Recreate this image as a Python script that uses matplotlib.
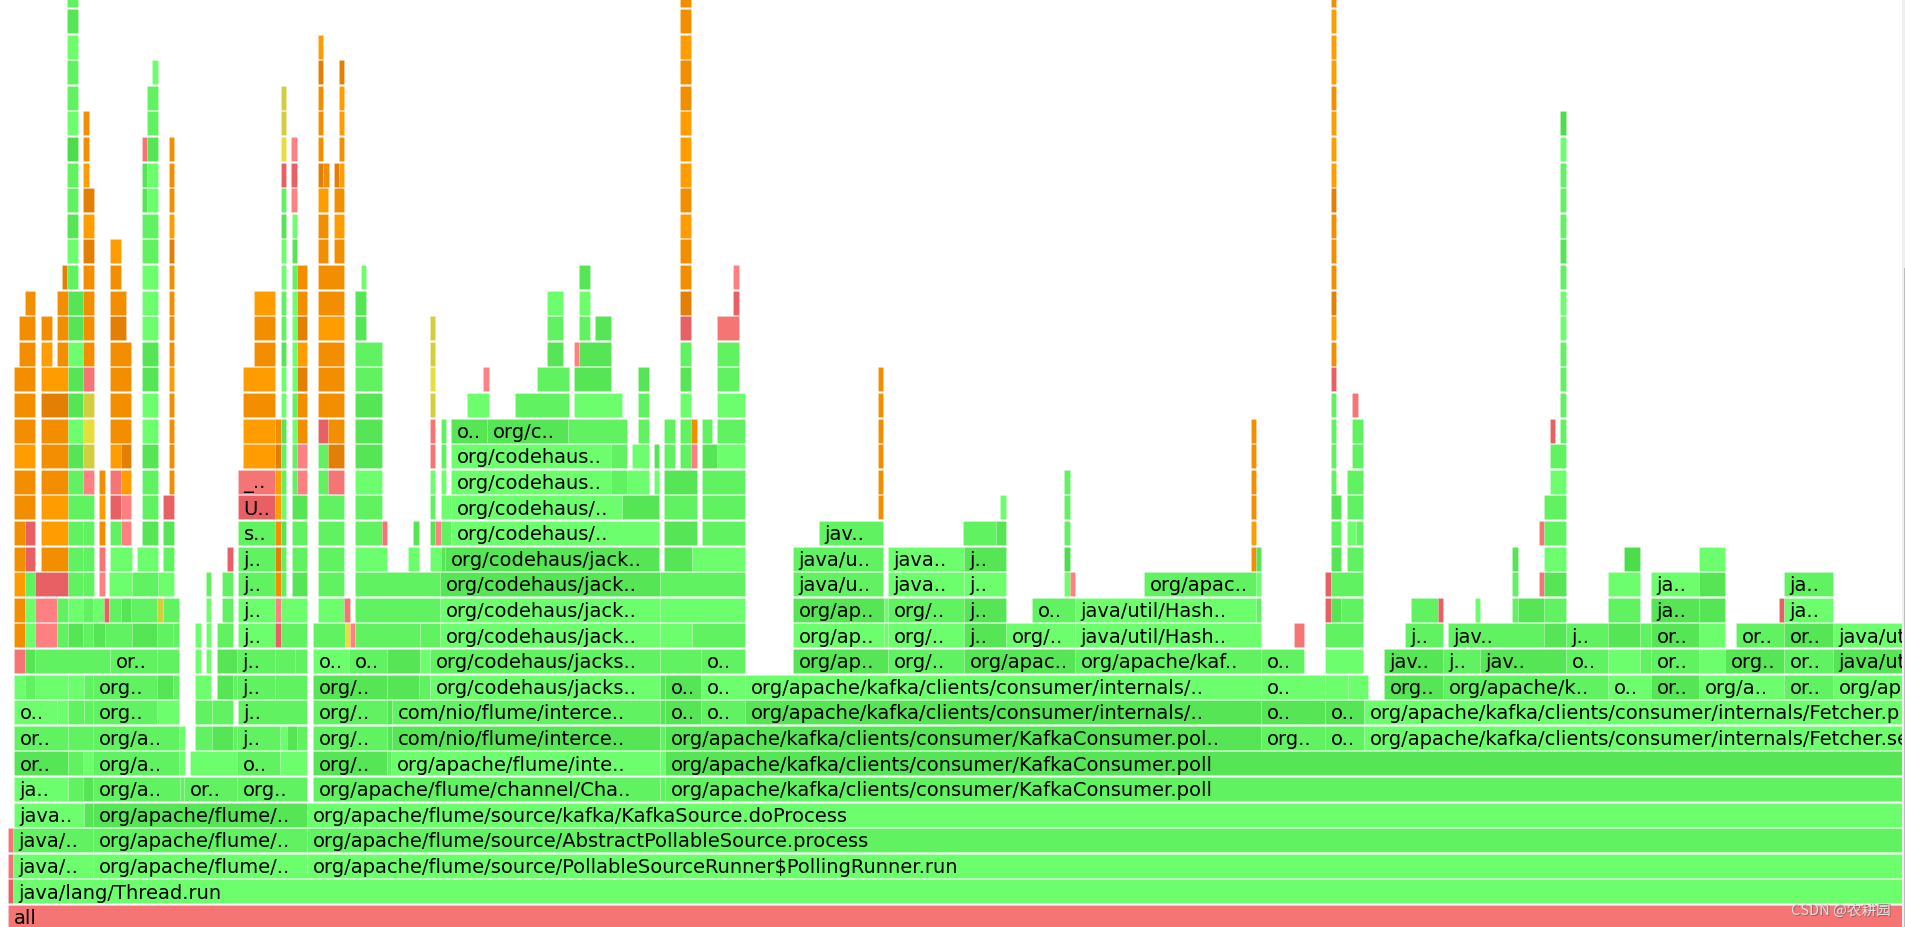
import matplotlib
matplotlib.use("Agg")
import matplotlib.pyplot as plt

# tone letters -> flame graph colours
TONES = {
    "G": "#6cfe6c", "M": "#61f261", "D": "#55e555", "V": "#4cdc4c",
    "O": "#ff9d00", "o": "#f28e00", "p": "#e37f04",
    "R": "#ff8080", "r": "#f57575", "s": "#e86064",
    "Y": "#e5de3c", "y": "#d2ce3e",
}

# one list per stack depth: (start, end, tone, label)
DEPTH_00 = [(8, 1902, "r", "all")]
DEPTH_01 = [(8, 13, "s"), (13, 1902, "G", "java/lang/Thread.run")]
DEPTH_02 = [(8, 13, "r"), (13, 93, "G", "java/.."), (93, 307, "G", "org/apache/flume/.."),
            (307, 1902, "G", "org/apache/flume/source/PollableSourceRunner$PollingRunner.run")]
DEPTH_03 = [(8, 13, "r"), (13, 93, "M", "java/.."), (93, 307, "M", "org/apache/flume/.."),
            (307, 1902, "M", "org/apache/flume/source/AbstractPollableSource.process")]
DEPTH_04 = [(14, 84, "G", "java.."), (84, 93, "D"), (93, 307, "D", "org/apache/flume/.."),
            (307, 1902, "G", "org/apache/flume/source/kafka/KafkaSource.doProcess")]
DEPTH_05 = [(14, 68, "G", "ja.."), (68, 83, "M"), (83, 93, "D"), (93, 180, "M", "org/a.."),
            (180, 184.5, "M"), (184.5, 237, "M", "or.."), (237, 307, "M", "org.."),
            (313, 660, "M", "org/apache/flume/channel/Cha.."), (660, 665, "M"),
            (665, 1902, "M", "org/apache/kafka/clients/consumer/KafkaConsumer.poll")]
DEPTH_06 = [(14, 68, "D", "or.."), (68, 83, "M"), (83, 93, "G"), (93, 179, "M", "org/a.."),
            (179, 185, "G"), (190, 237, "G"), (237, 280, "M", "o.."), (280, 307, "G"),
            (313, 387, "D", "org/.."), (387, 391, "M"), (391, 660, "G", "org/apache/flume/inte.."),
            (660, 665, "G"), (665, 1902, "D", "org/apache/kafka/clients/consumer/KafkaConsumer.poll")]
DEPTH_07 = [(14, 68, "M", "or.."), (68, 93, "M"), (93, 179, "M", "org/a.."), (179, 185, "G"),
            (195, 212, "M"), (212, 233, "D"), (233, 237, "M"), (237, 280, "M", "j.."),
            (280, 287, "G"), (287, 297, "D"), (297, 307, "M"), (313, 387, "M", "org/.."),
            (387, 392.5, "D"), (392.5, 660, "D", "com/nio/flume/interce.."), (660, 665, "M"),
            (665, 1261, "D", "org/apache/kafka/clients/consumer/KafkaConsumer.pol.."),
            (1261, 1325, "M", "org.."), (1325, 1364, "M", "o.."),
            (1364, 1902, "G", "org/apache/kafka/clients/consumer/internals/Fetcher.se")]
DEPTH_08 = [(14, 57, "G", "o.."), (57, 68, "G"), (68, 84, "M"), (84, 93, "M"), (93, 157, "M", "org.."),
            (157, 179, "G"), (195, 212, "M"), (212, 233, "M"), (238, 307, "M", "j.."),
            (313, 387, "M", "org/.."), (387, 392.5, "D"), (392.5, 660, "M", "com/nio/flume/interce.."),
            (660, 665, "D"), (665, 701, "D", "o.."), (701, 745, "M", "o.."),
            (745, 1261, "D", "org/apache/kafka/clients/consumer/internals/.."),
            (1261, 1325, "D", "o.."), (1325, 1364, "D", "o.."),
            (1364, 1902, "G", "org/apache/kafka/clients/consumer/internals/Fetcher.p")]
DEPTH_09 = [(14, 25, "G"), (25, 35, "M"), (35, 68, "G"), (68, 84, "G"), (84, 93.5, "M"), (93.5, 157, "M", "org.."),
            (157, 173, "D"), (173, 179, "M"), (195, 211, "G"), (217, 233, "D"), (233, 237, "M"),
            (237, 275, "M", "j.."), (275, 307, "M"), (313, 387, "D", "org/.."), (387, 419, "D"),
            (419, 430, "M"), (430, 660, "G", "org/codehaus/jacks.."), (660, 665, "D"),
            (665, 701, "D", "o.."), (701, 745, "G", "o.."),
            (745, 1261, "G", "org/apache/kafka/clients/consumer/internals/.."),
            (1261, 1325, "G", "o.."), (1325, 1348, "G"), (1348, 1368, "G"),
            (1384, 1443, "D", "org.."), (1443, 1608, "M", "org/apache/k.."), (1608, 1651, "G", "o.."),
            (1651, 1699, "D", "or.."), (1699, 1784, "G", "org/a.."), (1784, 1833, "M", "or.."),
            (1833, 1902, "G", "org/ap")]
DEPTH_10 = [(14, 25, "r"), (25, 35, "D"), (35, 110, "M"), (110, 157, "M", "or.."), (157, 179, "M"),
            (195, 201, "G"), (206, 211, "G"), (217, 237, "D"), (237, 275, "M", "j.."), (275, 295, "M"), (295, 307, "M"),
            (313, 349, "G", "o.."), (349, 387, "M", "o.."), (387, 420, "D"), (420, 430, "G"),
            (430, 660, "M", "org/codehaus/jacks.."), (660, 701, "M"), (701, 745, "M", "o.."),
            (793, 888, "D", "org/ap.."), (888, 964, "M", "org/.."), (964, 1075, "D", "org/apac.."),
            (1075, 1261, "M", "org/apache/kaf.."), (1261, 1304, "M", "o.."), (1325, 1363, "G"),
            (1384, 1443, "D", "jav.."), (1443, 1480, "M", "j.."), (1480, 1566, "D", "jav.."),
            (1566, 1608, "M", "o.."), (1608, 1640, "G"), (1640, 1651, "M"), (1651, 1699, "M", "or.."),
            (1699, 1725, "G"), (1725, 1784, "D", "org.."), (1784, 1833, "M", "or.."),
            (1833, 1902, "D", "java/ut")]
DEPTH_11 = [(14, 25, "o"), (25, 35, "G"), (35, 57, "R"), (57, 68, "M"), (68, 83, "D"), (83, 93, "M"),
            (93, 105, "D"), (105, 132, "M"), (132, 157, "D"), (157, 173, "M"), (173, 179, "M"),
            (195, 201, "G"), (206, 211, "G"), (217, 233, "M"), (238, 275, "G", "j.."), (275, 281, "s"),
            (281, 307, "M"), (313, 345, "M"), (345, 350, "Y"), (350, 355, "R"), (355, 420, "M"), (420, 440.5, "M"),
            (440.5, 660, "G", "org/codehaus/jack.."), (660, 692, "G"), (692, 745, "M"),
            (793, 884, "G", "org/ap.."), (884, 888, "G"), (888, 964, "G", "org/.."), (964, 1006, "D", "j.."),
            (1006, 1075, "G", "org/.."), (1075, 1261, "G", "java/util/Hash.."), (1294, 1304, "r"),
            (1325, 1363, "M"), (1405, 1443, "M", "j.."), (1448, 1544, "M", "jav.."), (1544, 1566, "D"),
            (1566, 1608, "M", "j.."), (1608, 1640, "D"), (1640, 1651, "M"), (1651, 1699, "D", "or.."),
            (1699, 1725, "G"), (1736, 1784, "M", "or.."), (1784, 1833, "D", "or.."),
            (1833, 1902, "G", "java/ut")]
DEPTH_12 = [(14, 25, "o"), (25, 35, "G"), (35, 57, "R"), (57, 68, "M"), (68, 83, "G"), (83, 93, "M"),
            (93, 104.5, "G"), (104.5, 109.5, "s"), (109.5, 121, "M"), (121, 131, "D"), (131, 157, "M"),
            (157, 163, "y"), (163, 179, "M"), (206, 211, "G"), (222, 233, "M"), (238, 275, "G", "j.."),
            (275, 281, "R"), (281, 307, "G"), (318, 344, "G"), (344, 350, "r"),
            (355, 440.5, "M"), (440.5, 660, "G", "org/codehaus/jack.."), (660, 745, "G"),
            (793, 884, "D", "org/ap.."), (884, 888, "G"), (888, 964, "M", "org/.."), (964, 1006, "D", "j.."),
            (1032, 1075, "M", "o.."), (1075, 1256, "G", "java/util/Hash.."), (1256, 1261, "M"),
            (1325, 1331, "s"), (1331, 1341, "D"), (1341, 1363, "M"), (1411, 1438, "M"), (1438, 1443, "s"),
            (1475, 1480, "G"), (1512, 1518, "M"), (1518, 1544, "D"), (1544, 1566, "M"),
            (1608, 1640, "M"), (1651, 1699, "D", "ja.."), (1699, 1725, "D"), (1779, 1784, "s"),
            (1784, 1833, "G", "ja..")]
DEPTH_13 = [(14, 25, "O"), (25, 35, "M"), (35, 68, "s"), (68, 83, "M"), (83, 94, "M"), (99, 105, "R"),
            (109, 132, "G"), (132, 158, "M"), (158, 174, "G"), (206, 211, "M"), (222, 233, "M"),
            (238, 275, "M", "j.."), (275, 281, "o"), (281, 286, "M"), (292, 307, "D"), (318, 344, "M"),
            (355, 440.5, "M"), (440.5, 660, "D", "org/codehaus/jack.."), (660, 745, "M"),
            (793, 883, "M", "java/u.."), (888, 964, "G", "java.."), (964, 1006, "G", "j.."),
            (1064, 1070, "G"), (1070, 1075, "R"), (1144, 1256, "M", "org/apac.."), (1256, 1261, "G"),
            (1325, 1331, "s"), (1331, 1363, "M"), (1539, 1544, "r"), (1512, 1518, "M"), (1544, 1566, "D"),
            (1608, 1640, "G"), (1651, 1699, "G", "ja.."), (1699, 1725, "D"), (1784, 1833, "M", "ja..")]
DEPTH_14 = [(14, 25, "o"), (25, 35, "s"), (41, 68, "o"), (68, 83, "M"), (83, 94, "M"), (99, 105, "r"),
            (110, 132, "G"), (137, 158, "G"), (163, 174, "M"), (227, 233, "s"), (238, 275, "M", "j.."),
            (275, 281, "p"), (281, 286, "M"), (292, 307, "M"), (318, 344, "M"), (355, 387, "G"),
            (408, 419, "G"), (430, 441, "G"), (441, 445.5, "D"), (445.5, 659, "D", "org/codehaus/jack.."),
            (664, 692, "D"), (692, 745, "G"), (793, 883, "M", "java/u.."), (888, 964, "G", "java.."),
            (964, 1006, "D", "j.."), (1064, 1070, "V"), (1251, 1256, "o"), (1256, 1261, "D"),
            (1331, 1341, "D"), (1347, 1363, "M"), (1512, 1518, "D"), (1544, 1566, "G"),
            (1624, 1640, "V"), (1699, 1725, "G")]
DEPTH_15 = [(14, 25, "o"), (25, 35, "s"), (41, 68, "O"), (68, 83, "M"), (83, 94, "M"), (99, 105, "o"),
            (110, 121, "M"), (121, 131, "R"), (142, 158, "D"), (163, 174, "D"), (238, 275, "M", "s.."),
            (275, 281, "o"), (281, 286, "D"), (292, 307, "M"), (318, 344, "M"), (355, 382, "M"), (382, 387, "r"),
            (413, 419, "D"), (430, 435, "D"), (435, 441, "R"), (441, 451, "M"),
            (451, 659, "G", "org/codehaus/.."), (664, 697, "D"), (702, 745, "M"), (819, 883, "M", "jav.."),
            (963, 996, "M"), (996, 1006, "D"), (1064, 1070, "M"), (1251, 1256, "O"),
            (1331, 1341, "M"), (1347, 1356, "G"), (1356, 1363, "M"), (1539, 1544, "r"), (1544, 1566, "M")]
DEPTH_16 = [(14, 35, "o"), (41, 68, "O"), (68, 94, "M"), (99, 105, "O"), (110, 121, "s"), (121, 131, "R"),
            (142, 158, "M"), (163, 174, "s"), (238, 275, "s", "U.."), (275, 281, "O"), (281, 286, "G"),
            (292, 307, "D"), (318, 344, "M"), (355, 382, "M"), (430, 435, "M"),
            (441, 451, "G"), (451, 622, "G", "org/codehaus/.."), (622, 659, "D"), (664, 697, "M"), (702, 745, "M"),
            (878, 883, "o"), (1000, 1006, "G"), (1064, 1070, "M"), (1251, 1256, "o"),
            (1331, 1341, "D"), (1347, 1363, "M"), (1544, 1566, "M")]
DEPTH_17 = [(14, 35, "o"), (41, 68, "o"), (68, 83, "M"), (83, 94, "R"), (99, 105, "o"), (110, 121, "r"),
            (121, 131, "O"), (142, 158, "M"), (169, 174, "o"), (238, 275, "r", "_.."), (275, 281, "O"),
            (281, 286, "M"), (292, 297, "M"), (297, 307, "R"), (318, 328, "M"), (328, 344, "r"),
            (355, 382, "G"), (430, 435, "G"), (441, 446, "G"), (451, 611, "G", "org/codehaus.."), (611, 627, "M"),
            (627, 649, "G"), (654, 659, "G"), (664, 697, "D"), (702, 745, "M"), (878, 883, "o"),
            (1064, 1070, "M"), (1251, 1256, "o"), (1331, 1336, "M"), (1347, 1363, "M"), (1550, 1566, "G")]
DEPTH_18 = [(14, 35, "O"), (41, 68, "o"), (68, 83, "D"), (83, 94, "y"), (110, 121, "O"), (121, 131, "p"),
            (142, 158, "D"), (169, 174, "o"), (243, 275, "O"), (275, 281, "p"), (281, 286, "M"),
            (292, 297, "M"), (297, 307, "R"), (318, 328, "M"), (328, 344, "p"), (355, 382, "D"),
            (430, 435, "r"), (441, 446, "M"), (451, 611, "G", "org/codehaus.."), (611, 627, "M"),
            (632, 649, "G"), (654, 659, "D"), (664, 675, "M"), (680, 691, "M"), (691, 697, "R"),
            (702, 717, "D"), (717, 745, "G"), (878, 883, "o"), (1251, 1256, "o"), (1331, 1336, "M"),
            (1352, 1363, "M"), (1550, 1566, "M")]
DEPTH_19 = [(14, 35, "o"), (41, 68, "o"), (68, 83, "G"), (83, 94, "Y"), (110, 131, "o"), (142, 158, "G"),
            (169, 174, "o"), (243, 275, "O"), (275, 281, "o"), (281, 286, "D"), (292, 297, "G"),
            (297, 307, "o"), (318, 328, "s"), (328, 344, "o"), (355, 382, "D"),
            (430, 435, "r"), (441, 446, "M"), (451, 487, "D", "o.."), (487, 568, "D", "org/c.."),
            (568, 627, "M"), (638, 649, "M"), (664, 675, "M"), (680, 691, "M"), (691, 697, "o"),
            (702, 712, "M"), (717, 745, "M"), (878, 883, "o"), (1251, 1256, "o"), (1331, 1336, "M"),
            (1352, 1363, "M"), (1550, 1555, "s"), (1560, 1566, "M")]
DEPTH_20 = [(14, 35, "o"), (41, 68, "p"), (68, 83, "D"), (83, 94, "y"), (110, 131, "o"), (142, 158, "G"),
            (169, 174, "o"), (243, 275, "o"), (281, 286, "G"), (292, 297, "M"), (297, 307, "o"),
            (318, 344, "o"), (355, 382, "D"), (430, 435, "y"), (467, 489, "G"), (515, 569, "M"),
            (574, 622, "G"), (638, 649, "M"), (680, 691, "G"), (717, 745, "G"), (878, 883, "o"),
            (1331, 1336, "M"), (1352, 1358, "r"), (1560, 1566, "M")]
DEPTH_21 = [(14, 35, "o"), (41, 68, "O"), (68, 83, "D"), (83, 94, "r"), (110, 131, "o"), (142, 158, "D"),
            (169, 174, "O"), (243, 275, "O"), (281, 286, "G"), (292, 297, "G"), (297, 307, "p"),
            (318, 344, "o"), (355, 382, "M"), (430, 435, "Y"), (483, 489, "R"), (537, 569, "M"),
            (574, 611, "D"), (638, 649, "D"), (680, 691, "D"), (717, 739, "M"), (878, 883, "o"),
            (1331, 1336, "s"), (1560, 1566, "M")]
DEPTH_22 = [(19, 35, "o"), (41, 52, "O"), (57, 68, "o"), (68, 83, "G"), (83, 94, "o"), (110, 131, "o"),
            (142, 158, "D"), (169, 174, "o"), (254, 275, "o"), (281, 286, "D"), (292, 297, "G"),
            (297, 307, "O"), (318, 344, "o"), (355, 382, "M"), (430, 435, "y"), (547, 563, "D"),
            (574, 579, "R"), (579, 611, "D"), (680, 691, "M"), (717, 739, "M"),
            (1331, 1336, "o"), (1560, 1566, "M")]
DEPTH_23 = [(19, 35, "o"), (41, 52, "o"), (57, 68, "o"), (68, 83, "D"), (83, 94, "o"), (110, 126, "p"),
            (142, 158, "G"), (169, 174, "o"), (254, 275, "o"), (281, 286, "M"), (292, 297, "G"),
            (297, 307, "p"), (318, 344, "O"), (355, 366, "D"), (430, 435, "y"), (547, 563, "M"),
            (579, 590, "M"), (595, 611, "D"), (680, 691, "s"), (717, 739, "r"),
            (1331, 1336, "O"), (1560, 1566, "G")]
DEPTH_24 = [(25, 35, "o"), (57, 68, "o"), (68, 83, "D"), (83, 94, "o"), (110, 126, "o"), (142, 158, "G"),
            (169, 174, "o"), (254, 275, "O"), (281, 286, "M"), (292, 297, "G"), (297, 307, "o"),
            (318, 344, "o"), (355, 366, "D"), (547, 563, "G"), (579, 590, "G"), (680, 691, "p"), (733, 739, "s"),
            (1331, 1336, "p"), (1560, 1566, "G")]
DEPTH_25 = [(62, 67.5, "p"), (67.5, 78, "M"), (83, 94, "o"), (110, 121, "o"), (142, 158, "G"),
            (169, 174, "o"), (281, 286, "G"), (292, 297, "M"), (297, 307, "o"), (318, 344, "o"),
            (361, 366, "G"), (579, 590, "D"), (680, 691, "o"), (733, 739, "R"),
            (1331, 1336, "o"), (1560, 1566, "M")]
DEPTH_26 = [(67.5, 78, "G"), (83, 94, "p"), (110, 121, "O"), (142, 158, "M"), (169, 174, "p"),
            (281, 286, "G"), (292, 297, "D"), (318, 328, "o"), (334, 344, "o"), (680, 691, "o"),
            (1331, 1336, "o"), (1560, 1566, "D")]
DEPTH_27 = [(67.5, 78, "D"), (83, 94, "O"), (142, 158, "M"), (169, 174, "O"), (281, 286, "D"),
            (292, 297, "G"), (318, 328, "o"), (334, 344, "O"), (680, 691, "O"),
            (1331, 1336, "o"), (1560, 1566, "M")]
DEPTH_28 = [(67.5, 78, "M"), (83, 94, "p"), (142, 147, "D"), (147, 158, "G"), (169, 174, "o"),
            (281, 286, "M"), (291, 297, "R"), (318, 328, "O"), (334, 344, "o"), (680, 691, "o"),
            (1331, 1336, "p"), (1560, 1566, "M")]
DEPTH_29 = [(67.5, 78, "M"), (83, 89, "O"), (142, 147, "D"), (147, 158, "G"), (169, 174, "o"),
            (281, 286, "s"), (291, 297, "s"), (318, 323, "p"), (323, 329, "o"), (334, 339, "p"),
            (339, 344, "O"), (680, 691, "O"), (1331, 1336, "O"), (1560, 1566, "M")]
DEPTH_30 = [(67.5, 78, "V"), (83, 89, "o"), (142, 147, "r"), (147, 158, "D"), (169, 174, "o"),
            (281, 286, "Y"), (291, 297, "R"), (318, 323, "o"), (339, 344, "o"), (680, 691, "O"),
            (1331, 1336, "O"), (1560, 1566, "G")]
DEPTH_31 = [(67.5, 78, "G"), (83, 89, "o"), (147, 158, "M"), (281, 286, "y"), (318, 323, "o"),
            (339, 344, "O"), (680, 691, "O"), (1331, 1336, "O"), (1560, 1566, "V")]
DEPTH_32 = [(67.5, 78, "M"), (147, 158, "M"), (281, 286, "y"), (318, 323, "o"), (339, 344, "O"),
            (680, 691, "o"), (1331, 1336, "o")]
DEPTH_33 = [(67.5, 78, "M"), (152, 158, "G"), (318, 323, "p"), (339, 344, "p"), (680, 691, "o"),
            (1331, 1336, "O")]
DEPTH_34 = [(67.5, 78, "G"), (318, 323, "O"), (680, 691, "O"), (1331, 1336, "O")]
DEPTH_35 = [(67.5, 78, "D"), (680, 691, "o"), (1331, 1336, "O")]
DEPTH_36 = [(67.5, 78, "M"), (680, 691, "o"), (1331, 1336, "o")]

DEPTHS = [DEPTH_00, DEPTH_01, DEPTH_02, DEPTH_03, DEPTH_04, DEPTH_05, DEPTH_06, DEPTH_07, DEPTH_08,
          DEPTH_09, DEPTH_10, DEPTH_11, DEPTH_12, DEPTH_13, DEPTH_14, DEPTH_15, DEPTH_16, DEPTH_17,
          DEPTH_18, DEPTH_19, DEPTH_20, DEPTH_21, DEPTH_22, DEPTH_23, DEPTH_24, DEPTH_25, DEPTH_26,
          DEPTH_27, DEPTH_28, DEPTH_29, DEPTH_30, DEPTH_31, DEPTH_32, DEPTH_33, DEPTH_34, DEPTH_35,
          DEPTH_36]

WATERMARK = "CSDN @农耕园"

fig = plt.figure(figsize=(19.06, 9.28), dpi=100)
ax = fig.add_axes([0, 0, 1, 1])
ax.set_xlim(0, 1906)
ax.set_ylim(0.078, 36.328)
ax.axis("off")

for depth, frames in enumerate(DEPTHS):
    for frame in frames:
        x0, x1, tone = frame[:3]
        ax.barh(depth, x1 - x0, left=x0, height=0.94, align="edge", color=TONES[tone],
                edgecolor=(1, 1, 1, 0.15), linewidth=0.6)
        if len(frame) > 3:
            ax.text(x0 + 5.5, depth + 0.44, frame[3], fontsize=14, color="black", va="center", ha="left")

# page scrollbar on the right
ax.axvspan(1902, 1906, color="#efefef", lw=0, zorder=5)
ax.axvspan(1904, 1906, ymin=0, ymax=(928 - 269) / 928, color="#bdbdbd", lw=0, zorder=6)

# csdn watermark
wm_font = ["Noto Sans CJK SC", "DejaVu Sans"]
ax.text(1891.5, 0.72, WATERMARK, fontsize=10.5, family=wm_font, color="#6b5f5f", ha="right", va="center",
        zorder=7, alpha=0.7)
ax.text(1890.5, 0.76, WATERMARK, fontsize=10.5, family=wm_font, color="#e6e0e0", ha="right", va="center",
        zorder=8)

fig.savefig("out.png", dpi=100, facecolor="white")
plt.close(fig)
